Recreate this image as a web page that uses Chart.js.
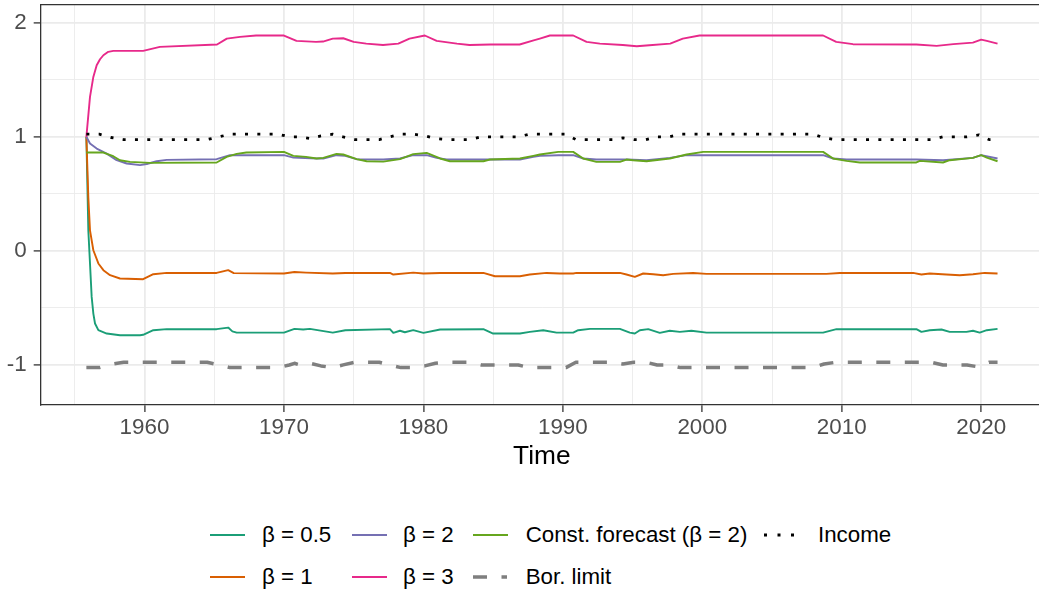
<!DOCTYPE html>
<html>
<head>
<meta charset="utf-8">
<script src="https://cdn.jsdelivr.net/npm/chart.js@4.4.1/dist/chart.umd.min.js"></script>
<style>
html,body{margin:0;padding:0;background:#fff;overflow:hidden;width:1039px;height:594px;}
#wrap{position:absolute;left:0;top:0;width:1060px;height:480px;}
.lg{position:absolute;font-family:"Liberation Sans",Arial,sans-serif;font-size:22.3px;line-height:26px;color:#000;white-space:nowrap;}
svg.key{position:absolute;overflow:visible;}
</style>
</head>
<body>
<div id="wrap"><canvas id="c" width="1060" height="480"></canvas></div>
<div id="legend"></div>
<script>
// ---- Data: [time, value] pairs ----
const beta05 = [[1955.83,1.0],[1955.97,0.18],[1956.09,-0.11],[1956.21,-0.403],[1956.33,-0.549],[1956.45,-0.636],[1956.69,-0.695],[1957.29,-0.724],[1958.24,-0.739],[1959.68,-0.739],[1959.9,-0.735],[1960.63,-0.695],[1961.59,-0.686],[1965.17,-0.686],[1966.0,-0.672],[1966.3,-0.705],[1966.61,-0.716],[1970.0,-0.716],[1970.75,-0.683],[1971.38,-0.689],[1971.86,-0.683],[1973.5,-0.716],[1974.4,-0.695],[1977.6,-0.686],[1977.84,-0.718],[1978.32,-0.70],[1978.67,-0.713],[1979.27,-0.695],[1980.0,-0.718],[1981.2,-0.689],[1984.3,-0.686],[1985.0,-0.724],[1986.92,-0.724],[1987.63,-0.71],[1988.59,-0.695],[1989.55,-0.716],[1990.74,-0.716],[1991.1,-0.695],[1991.94,-0.683],[1994.09,-0.683],[1994.8,-0.716],[1995.16,-0.724],[1995.52,-0.695],[1996.12,-0.686],[1996.95,-0.718],[1997.67,-0.70],[1998.39,-0.71],[1999.22,-0.70],[2000.3,-0.716],[2008.66,-0.716],[2009.62,-0.686],[2015.35,-0.686],[2015.71,-0.71],[2016.31,-0.695],[2017.15,-0.689],[2017.74,-0.71],[2018.94,-0.71],[2019.41,-0.70],[2019.89,-0.716],[2020.4,-0.695],[2021.17,-0.683]];

const beta1 = [[1955.83,1.0],[1955.97,0.47],[1956.09,0.18],[1956.33,0.006],[1956.69,-0.11],[1957.05,-0.169],[1957.53,-0.213],[1958.24,-0.242],[1959.9,-0.248],[1960.63,-0.204],[1961.59,-0.193],[1965.17,-0.193],[1966.0,-0.169],[1966.4,-0.195],[1970.0,-0.198],[1970.75,-0.185],[1971.58,-0.19],[1973.5,-0.198],[1974.4,-0.193],[1977.6,-0.193],[1977.84,-0.207],[1979.27,-0.19],[1980.0,-0.198],[1981.2,-0.193],[1984.3,-0.193],[1985.13,-0.222],[1986.92,-0.222],[1987.63,-0.207],[1988.83,-0.193],[1989.78,-0.198],[1990.74,-0.198],[1990.98,-0.193],[1994.09,-0.193],[1994.56,-0.207],[1995.16,-0.228],[1995.76,-0.198],[1996.48,-0.204],[1997.19,-0.213],[1997.91,-0.201],[1999.34,-0.193],[2000.3,-0.201],[2008.9,-0.201],[2009.86,-0.193],[2015.11,-0.193],[2015.71,-0.207],[2016.31,-0.198],[2017.5,-0.207],[2018.46,-0.213],[2019.41,-0.204],[2020.25,-0.193],[2021.17,-0.198]];

const beta2 = [[1955.83,1.0],[1956.09,0.941],[1956.57,0.897],[1957.29,0.853],[1958.0,0.795],[1958.72,0.766],[1959.68,0.752],[1960.16,0.762],[1960.87,0.786],[1961.59,0.798],[1965.17,0.804],[1966.13,0.839],[1970.0,0.839],[1970.67,0.818],[1972.34,0.81],[1972.82,0.81],[1973.77,0.839],[1974.4,0.833],[1975.21,0.804],[1977.12,0.801],[1978.32,0.81],[1979.27,0.839],[1980.23,0.839],[1980.95,0.815],[1981.67,0.801],[1984.3,0.801],[1986.92,0.801],[1987.88,0.824],[1988.35,0.833],[1989.67,0.839],[1990.74,0.839],[1991.46,0.81],[1992.4,0.801],[1994.56,0.801],[1996.0,0.795],[1997.67,0.815],[1998.87,0.839],[2008.66,0.839],[2009.38,0.81],[2010.34,0.801],[2015.35,0.801],[2017.26,0.795],[2019.4,0.815],[2020.0,0.839],[2021.17,0.81]];

const beta3 = [[1955.83,1.0],[1956.09,1.35],[1956.33,1.525],[1956.57,1.627],[1956.81,1.68],[1957.05,1.715],[1957.4,1.745],[1957.76,1.753],[1959.9,1.753],[1961.1,1.788],[1965.2,1.809],[1965.9,1.861],[1966.85,1.876],[1968.0,1.888],[1970.0,1.888],[1970.9,1.841],[1972.3,1.832],[1972.8,1.835],[1973.5,1.861],[1974.25,1.864],[1975.0,1.832],[1975.9,1.817],[1977.1,1.805],[1978.2,1.817],[1979.0,1.861],[1980.1,1.888],[1980.95,1.841],[1982.4,1.817],[1983.3,1.805],[1984.8,1.809],[1986.9,1.809],[1987.9,1.845],[1988.35,1.861],[1989.07,1.888],[1990.74,1.888],[1991.7,1.832],[1992.65,1.817],[1994.3,1.805],[1995.3,1.794],[1996.2,1.803],[1997.7,1.817],[1998.6,1.861],[1999.8,1.888],[2008.66,1.888],[2009.6,1.832],[2010.8,1.812],[2015.35,1.809],[2016.8,1.797],[2018.0,1.812],[2019.4,1.826],[2020.0,1.852],[2020.4,1.841],[2021.17,1.817]];

const constForecast = [[1955.83,0.862],[1957.05,0.862],[1957.76,0.83],[1958.24,0.795],[1958.96,0.78],[1960.4,0.772],[1965.17,0.775],[1965.89,0.824],[1966.61,0.85],[1967.3,0.862],[1970.0,0.868],[1970.67,0.833],[1971.58,0.824],[1972.34,0.81],[1972.82,0.815],[1973.77,0.85],[1974.25,0.845],[1975.21,0.804],[1975.93,0.786],[1977.12,0.783],[1978.32,0.804],[1979.27,0.848],[1980.23,0.859],[1981.2,0.81],[1981.9,0.786],[1984.3,0.786],[1984.77,0.801],[1986.92,0.81],[1987.88,0.833],[1988.35,0.845],[1989.67,0.868],[1990.74,0.868],[1991.46,0.81],[1992.4,0.78],[1994.09,0.78],[1994.56,0.801],[1995.04,0.795],[1996.0,0.786],[1997.67,0.81],[1998.87,0.845],[2000.06,0.868],[2008.66,0.868],[2009.38,0.81],[2010.34,0.789],[2011.3,0.775],[2015.35,0.775],[2015.6,0.789],[2017.26,0.775],[2017.74,0.795],[2019.4,0.815],[2020.0,0.839],[2020.4,0.818],[2021.17,0.786]];

const income = [[1955.83,1.023],[1956.76,1.023],[1957.6,0.994],[1958.5,0.976],[1964.5,0.976],[1965.36,1.0],[1966.13,1.023],[1969.6,1.023],[1970.38,1.0],[1971.15,1.0],[1971.86,0.985],[1972.65,1.008],[1973.49,1.023],[1974.25,0.999],[1975.09,0.976],[1976.84,0.976],[1977.6,1.0],[1978.39,1.023],[1979.27,1.023],[1980.1,1.008],[1980.86,0.985],[1981.7,0.976],[1983.33,0.976],[1984.16,1.0],[1986.8,1.0],[1987.58,1.023],[1990.22,1.023],[1990.93,0.976],[1993.56,0.976],[1994.3,0.991],[1995.09,0.976],[1995.95,0.976],[1996.76,1.0],[1997.62,1.0],[1998.44,1.023],[2007.95,1.023],[2008.73,0.991],[2009.57,0.976],[2016.43,0.976],[2017.26,1.0],[2018.98,1.0],[2019.84,1.017],[2020.56,0.976],[2021.17,0.976]];

const borLimit = [[1955.83,-1.023],[1956.76,-1.023],[1957.6,-0.994],[1958.5,-0.976],[1964.5,-0.976],[1965.36,-1.0],[1966.13,-1.023],[1969.6,-1.023],[1970.38,-1.0],[1970.75,-0.985],[1971.15,-1.0],[1971.86,-0.985],[1972.65,-1.008],[1973.49,-1.023],[1974.25,-0.999],[1975.09,-0.976],[1976.84,-0.976],[1977.6,-1.0],[1978.39,-1.023],[1979.27,-1.023],[1980.1,-1.008],[1980.86,-0.985],[1981.7,-0.976],[1983.33,-0.976],[1984.16,-1.0],[1986.8,-1.0],[1987.58,-1.023],[1990.22,-1.023],[1990.93,-0.976],[1993.56,-0.976],[1994.3,-0.991],[1995.09,-0.976],[1995.95,-0.976],[1996.76,-1.0],[1997.62,-1.0],[1998.44,-1.023],[2007.95,-1.023],[2008.73,-0.991],[2009.57,-0.976],[2016.43,-0.976],[2017.26,-1.0],[2018.98,-1.0],[2019.84,-1.017],[2020.56,-0.976],[2021.17,-0.976]];

// ---- Tick labels ----
const xTicks = [1955,1960,1965,1970,1975,1980,1985,1990,1995,2000,2005,2010,2015,2020];
const xMajor = [1960,1970,1980,1990,2000,2010,2020];
const yTicks = [-1,-0.5,0,0.5,1,1.5,2];
const yMajor = [-1,0,1,2];

const seriesLabels = ['β = 0.5','β = 1','β = 2','β = 3','Const. forecast (β = 2)','Bor. limit','Income'];
const seriesColors = ['#1B9E77','#D95F02','#7570B3','#E7298A','#66A61E','#7F7F7F','#000000'];

const FONT = '"Liberation Sans", Arial, sans-serif';
const toXY = arr => arr.map(p => ({x: p[0], y: p[1]}));

const solid = (label, data, color) => ({label, data: toXY(data), borderColor: color, borderWidth: 1.9, pointRadius: 0, fill: false});

const datasets = [
  {label: seriesLabels[6], data: toXY(income), borderColor: seriesColors[6], borderWidth: 2.8, borderDash: [3, 9.3], pointRadius: 0, fill: false},
  {label: seriesLabels[5], data: toXY(borLimit), borderColor: seriesColors[5], borderWidth: 3.5, borderDash: [14, 14.5], pointRadius: 0, fill: false},
  solid(seriesLabels[4], constForecast, seriesColors[4]),
  solid(seriesLabels[3], beta3, seriesColors[3]),
  solid(seriesLabels[2], beta2, seriesColors[2]),
  solid(seriesLabels[1], beta1, seriesColors[1]),
  solid(seriesLabels[0], beta05, seriesColors[0])
];

const topBorder = {
  id: 'topBorder',
  afterDatasetsDraw(chart) {
    const {ctx, chartArea: a} = chart;
    ctx.save();
    ctx.strokeStyle = '#333333';
    ctx.lineWidth = 1.3;
    ctx.beginPath();
    ctx.moveTo(a.left, a.top);
    ctx.lineTo(a.right, a.top);
    ctx.stroke();
    ctx.restore();
  }
};

const noPad = s => { s.paddingTop = 0; s.paddingBottom = 0; s.paddingLeft = 0; s.paddingRight = 0; };

new Chart(document.getElementById('c'), {
  type: 'line',
  data: {datasets},
  plugins: [topBorder],
  options: {
    responsive: false,
    animation: false,
    events: [],
    layout: {padding: {left: 0, right: 17, top: 4.7, bottom: 0}},
    plugins: {legend: {display: false}, tooltip: {enabled: false}},
    elements: {line: {tension: 0, borderCapStyle: 'butt', borderJoinStyle: 'round'}, point: {radius: 0}},
    scales: {
      x: {
        type: 'linear', bounds: 'data', min: 1952.555, max: 2024.43,
        afterBuildTicks: s => { s.ticks = xTicks.map(v => ({value: v})); },
        afterFit: s => { s.height = 75; noPad(s); },
        grid: {
          color: '#EBEBEB',
          lineWidth: c => (c.tick && xMajor.includes(c.tick.value)) ? 1.8 : 0.9,
          tickLength: 7,
          tickColor: c => (c.tick && xMajor.includes(c.tick.value)) ? '#333333' : 'rgba(0,0,0,0)',
          tickWidth: 1.3
        },
        border: {display: true, color: '#333333', width: 1.3},
        ticks: {
          autoSkip: false, maxRotation: 0, minRotation: 0, padding: 2.6,
          color: '#4D4D4D', font: {family: FONT, size: 22.4},
          callback: v => xMajor.includes(v) ? String(v) : ''
        },
        title: {display: true, text: 'Time', color: '#000000', font: {family: FONT, size: 26.3}, padding: {top: 0, bottom: 7.2}}
      },
      y: {
        type: 'linear', bounds: 'data', min: -1.3506, max: 2.158,
        afterBuildTicks: s => { s.ticks = yTicks.map(v => ({value: v})); },
        afterFit: s => { s.width = 40.7; noPad(s); },
        grid: {
          color: '#EBEBEB',
          lineWidth: c => (c.tick && yMajor.includes(c.tick.value)) ? 1.8 : 0.9,
          tickLength: 7,
          tickColor: c => (c.tick && yMajor.includes(c.tick.value)) ? '#333333' : 'rgba(0,0,0,0)',
          tickWidth: 1.3
        },
        border: {display: true, color: '#333333', width: 1.3},
        ticks: {
          autoSkip: false, padding: 7,
          color: '#4D4D4D', font: {family: FONT, size: 22.4},
          callback: v => yMajor.includes(v) ? String(v) : ''
        }
      }
    }
  }
});

// ---- Legend (HTML, real text) ----
const legendItems = [
  {i: 0, col: 0, row: 0, type: 'solid'},
  {i: 1, col: 0, row: 1, type: 'solid'},
  {i: 2, col: 1, row: 0, type: 'solid'},
  {i: 3, col: 1, row: 1, type: 'solid'},
  {i: 4, col: 2, row: 0, type: 'solid'},
  {i: 5, col: 2, row: 1, type: 'dashed'},
  {i: 6, col: 3, row: 0, type: 'dotted'}
];
const colKeyX = [210, 351.7, 473, 762.5];
const colTextX = [262, 403, 525.7, 818];
const rowY = [535, 576.7];
const lg = document.getElementById('legend');
legendItems.forEach(it => {
  const y = rowY[it.row];
  const kx = colKeyX[it.col];
  const svgNS = 'http://www.w3.org/2000/svg';
  const svg = document.createElementNS(svgNS, 'svg');
  svg.setAttribute('class', 'key');
  svg.setAttribute('width', '36');
  svg.setAttribute('height', '12');
  svg.style.left = kx + 'px';
  svg.style.top = (y - 6) + 'px';
  const ln = document.createElementNS(svgNS, 'line');
  ln.setAttribute('y1', '6'); ln.setAttribute('y2', '6');
  ln.setAttribute('stroke', seriesColors[it.i]);
  if (it.type === 'solid') {
    ln.setAttribute('x1', '0'); ln.setAttribute('x2', '35'); ln.setAttribute('stroke-width', '2');
  } else if (it.type === 'dashed') {
    ln.setAttribute('x1', '0'); ln.setAttribute('x2', '34'); ln.setAttribute('stroke-width', '3.5');
    ln.setAttribute('stroke-dasharray', '14 14.5');
  } else {
    ln.setAttribute('x1', '1'); ln.setAttribute('x2', '34.5'); ln.setAttribute('stroke-width', '3');
    ln.setAttribute('stroke-dasharray', '3 10.5');
  }
  svg.appendChild(ln);
  lg.appendChild(svg);
  const t = document.createElement('div');
  t.className = 'lg';
  t.textContent = seriesLabels[it.i];
  t.style.left = colTextX[it.col] + 'px';
  t.style.top = (y - 13.2) + 'px';
  lg.appendChild(t);
});
</script>
</body>
</html>
